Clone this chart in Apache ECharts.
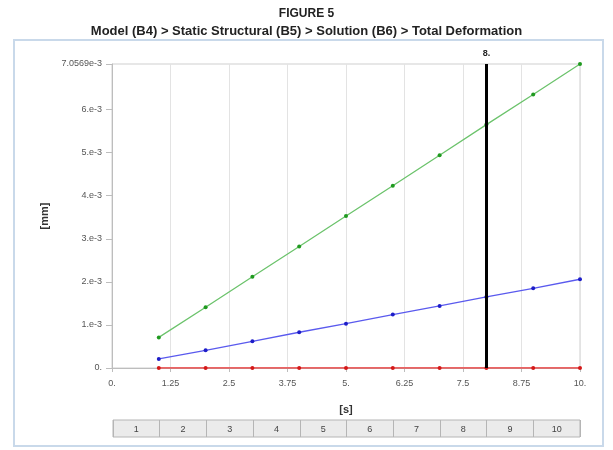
<!DOCTYPE html>
<html><head><meta charset="utf-8">
<script src="https://cdn.jsdelivr.net/npm/echarts@6/dist/echarts.min.js"></script>
<style>html,body{margin:0;padding:0;background:#fff}#c{width:613px;height:450px}</style>
</head><body><div id="c"></div>
<script>
const steps = [1, 2, 3, 4, 5, 6, 7, 8, 9, 10];
const stepLabels = ['1', '2', '3', '4', '5', '6', '7', '8', '9', '10'];
const greenValues = [0.71e-3, 1.41e-3, 2.12e-3, 2.82e-3, 3.53e-3, 4.23e-3, 4.94e-3, 5.65e-3, 6.35e-3, 7.0569e-3];
const blueValues = [0.21e-3, 0.41e-3, 0.62e-3, 0.83e-3, 1.03e-3, 1.24e-3, 1.44e-3, 1.65e-3, 1.85e-3, 2.06e-3];
const redValues = [0, 0, 0, 0, 0, 0, 0, 0, 0, 0];
const yTickValues = [0, 1e-3, 2e-3, 3e-3, 4e-3, 5e-3, 6e-3, 7.0569e-3];
const yTickLabels = ['0.', '1.e-3', '2.e-3', '3.e-3', '4.e-3', '5.e-3', '6.e-3', '7.0569e-3'];
const xTickValues = [0, 1.25, 2.5, 3.75, 5, 6.25, 7.5, 8.75, 10];
const xTickLabels = ['0.', '1.25', '2.5', '3.75', '5.', '6.25', '7.5', '8.75', '10.'];
const markerTime = 8;
const markerLabel = '8.';

const pair = (xs, ys) => xs.map((x, i) => [x, ys[i]]);
const labelFor = (vals, labs) => v => {
  for (let i = 0; i < vals.length; i++) if (Math.abs(vals[i] - v) < 1e-9) return labs[i];
  return '';
};
const font = 'Liberation Sans, Arial, sans-serif';
const chart = echarts.init(document.getElementById('c'), null, {renderer: 'canvas'});
chart.setOption({
  animation: false,
  textStyle: {fontFamily: font},
  title: [
    {text: 'FIGURE 5', left: 'center', top: 3, textStyle: {fontSize: 12, fontWeight: 'bold', color: '#222', fontFamily: font}},
    {text: 'Model (B4) > Static Structural (B5) > Solution (B6) > Total Deformation', left: 'center', top: 20, textStyle: {fontSize: 13, fontWeight: 'bold', color: '#222', fontFamily: font}}
  ],
  graphic: [
    {type: 'rect', shape: {x: 14, y: 40, width: 589, height: 406}, style: {fill: 'none', stroke: '#c9d9ea', lineWidth: 2}, silent: true, z: -1}
  ],
  grid: [
    {left: 112, right: 33, top: 64, height: 304, show: true, borderColor: '#cfcfcf', borderWidth: 1},
    {left: 113, right: 33, top: 420, height: 17, show: true, borderColor: '#b5b5b5', borderWidth: 1, backgroundColor: '#ebebeb'}
  ],
  xAxis: [
    {
      gridIndex: 0, type: 'value', min: 0, max: 10, interval: 1.25,
      name: '[s]', nameLocation: 'middle', nameGap: 36,
      nameTextStyle: {fontSize: 11, fontWeight: 'bold', color: '#333'},
      axisLine: {show: true, lineStyle: {color: '#bdbdbd'}},
      axisTick: {show: true, length: 4, lineStyle: {color: '#bdbdbd'}},
      axisLabel: {fontSize: 9, color: '#555', margin: 11, formatter: labelFor(xTickValues, xTickLabels)},
      splitLine: {show: true, lineStyle: {color: '#e3e3e3'}}
    },
    {
      gridIndex: 1, type: 'category', data: stepLabels, boundaryGap: true,
      axisLine: {show: false}, axisTick: {show: false},
      axisLabel: {inside: true, margin: 3, fontSize: 9, color: '#444', interval: 0},
      splitLine: {show: true, interval: 0, lineStyle: {color: '#b5b5b5'}}
    }
  ],
  yAxis: [
    {
      gridIndex: 0, type: 'value', min: 0, max: 7.0569e-3,
      name: '[mm]', nameLocation: 'middle', nameGap: 51, nameRotate: 90,
      nameTextStyle: {fontSize: 11, fontWeight: 'bold', color: '#333'},
      axisLine: {show: true, lineStyle: {color: '#bdbdbd'}},
      axisTick: {show: true, length: 6, customValues: yTickValues, lineStyle: {color: '#bdbdbd'}},
      axisLabel: {fontSize: 9, color: '#555', margin: 10, customValues: yTickValues, formatter: labelFor(yTickValues, yTickLabels)},
      splitLine: {show: false}
    },
    {gridIndex: 1, type: 'value', min: 0, max: 1, show: false}
  ],
  series: [
    {
      type: 'line', xAxisIndex: 0, yAxisIndex: 0, data: pair(steps, greenValues),
      symbol: 'circle', symbolSize: 4, lineStyle: {color: '#6cc36c', width: 1.3},
      itemStyle: {color: '#1f9a1f'}
    },
    {
      type: 'line', xAxisIndex: 0, yAxisIndex: 0, data: pair(steps, blueValues),
      symbol: 'circle', symbolSize: 4, lineStyle: {color: '#5a5aee', width: 1.3},
      itemStyle: {color: '#1d1dc8'}
    },
    {
      type: 'line', xAxisIndex: 0, yAxisIndex: 0, data: pair(steps, redValues),
      symbol: 'circle', symbolSize: 4, lineStyle: {color: '#ee3a3a', width: 1.3},
      itemStyle: {color: '#d41818'},
      markLine: {
        silent: true, symbol: ['none', 'none'],
        lineStyle: {color: '#000', width: 3, type: 'solid'},
        label: {show: true, position: 'end', formatter: markerLabel, fontSize: 9, fontWeight: 'bold', color: '#222', distance: 6},
        data: [{xAxis: markerTime}]
      },
      z: 3
    }
  ]
});
</script></body></html>
